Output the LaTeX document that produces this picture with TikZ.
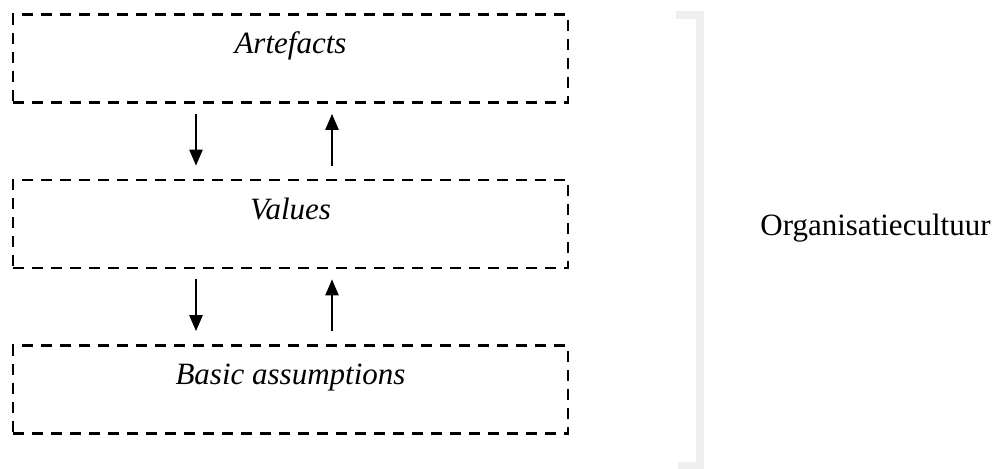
\documentclass[tikz,border=0pt]{standalone}
\usepackage{fontspec}
\setmainfont{Liberation Serif}
\usetikzlibrary{arrows.meta}
\definecolor{bracketgray}{HTML}{EFEFEF}

\begin{document}
\begin{tikzpicture}[x=0.5pt,y=0.5pt,node distance=82.75pt,
    layer/.style={draw,dash pattern=on 5.5pt off 4pt,line width=1.3pt,
        minimum width=277.5pt,minimum height=44pt,
        font=\fontsize{15.5}{18}\selectfont\itshape,text height=11pt,text depth=16pt},
    flow/.style={line width=1.1pt,-{Triangle[width=6.5pt,length=8pt]}}]
    \useasboundingbox (0,0) rectangle (1003,468);
    \node[layer] (art) at (290.5,409.5)      {Artefacts};
    \node[layer] (val) [below of=art]        {Values};
    \node[layer] (bas) [below of=val]        {Basic assumptions};
    % arrows between the layers
    \draw[flow] ([shift={(-47.25pt,-5pt)}]art.south) -- ([shift={(-47.25pt,6.5pt)}]val.north);
    \draw[flow] ([shift={(20.75pt,6.5pt)}]val.north) -- ([shift={(20.75pt,-5pt)}]art.south);
    \draw[flow] ([shift={(-47.25pt,-5pt)}]val.south) -- ([shift={(-47.25pt,6.5pt)}]bas.north);
    \draw[flow] ([shift={(20.75pt,6.5pt)}]bas.north) -- ([shift={(20.75pt,-5pt)}]val.south);
    % bracket
    \draw[bracketgray,line width=4pt] (676,453) -- (700,453) -- (700,2) -- (678,2);
    \node[anchor=base west,inner sep=0pt,font=\fontsize{15.5}{18}\selectfont] (cult) at (760,233) {Organisatiecultuur};
\end{tikzpicture}
\end{document}
